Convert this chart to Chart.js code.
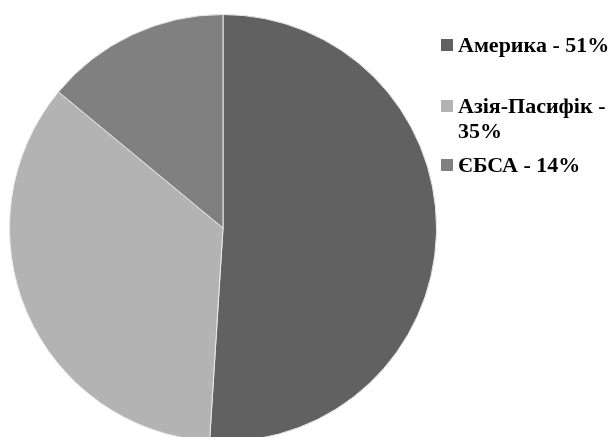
<html lang="uk">
<head>
    <meta charset="UTF-8">
    <title>Регіони</title>
    <script src="https://cdn.jsdelivr.net/npm/chart.js"></script>
    <style>
        html, body { margin: 0; padding: 0; background: #fff; overflow: hidden; }
        #wrap { position: relative; width: 611px; height: 437px; }
        #grafico { position: absolute; left: 0; top: 0; width: 611px; height: 460px; }
        #leyenda { position: absolute; left: 441px; top: 32px; width: 170px;
            font-family: "Liberation Serif", "Times New Roman", serif; font-weight: bold; font-size: 22px; line-height: 25px; color: #000; white-space: nowrap; }
        .item { position: relative; padding-left: 17px; }
        .caja { position: absolute; left: 0; top: 7px; width: 12px; height: 12px; }
    </style>
</head>
<body>
<div id="wrap">
    <div id="grafico"><canvas id="graficoPastel"></canvas></div>
    <div id="leyenda"></div>
</div>
<script>
    var regiones = ["Америка", "Азія-Пасифік", "ЄБСА"];
    var valores = [51, 35, 14];
    var colores = ["#616161", "#b3b3b3", "#808080"];
    var etiquetas = ["Америка - 51%", "Азія-Пасифік -<br>35%", "ЄБСА - 14%"];
    var margenes = [0, 36, 9];

    var ctx = document.getElementById("graficoPastel").getContext("2d");
    var grafico = new Chart(ctx, {
        type: 'pie',
        data: {
            labels: regiones,
            datasets: [{
                data: valores,
                backgroundColor: colores,
                borderColor: '#e8e8e8',
                borderWidth: 1
            }]
        },
        options: {
            responsive: true,
            maintainAspectRatio: false,
            animation: false,
            layout: { padding: { left: 9, right: 174, top: 14, bottom: 18 } },
            plugins: {
                legend: { display: false },
                tooltip: { enabled: false }
            }
        }
    });

    // leyenda en HTML para poder partir la línea
    var leyenda = document.getElementById("leyenda");
    for (var i = 0; i < regiones.length; i++) {
        var div = document.createElement("div");
        div.className = "item";
        div.style.marginTop = margenes[i] + "px";
        div.innerHTML = '<span class="caja" style="background:' + colores[i] + '"></span>' + etiquetas[i];
        leyenda.appendChild(div);
    }
</script>
</body>
</html>
